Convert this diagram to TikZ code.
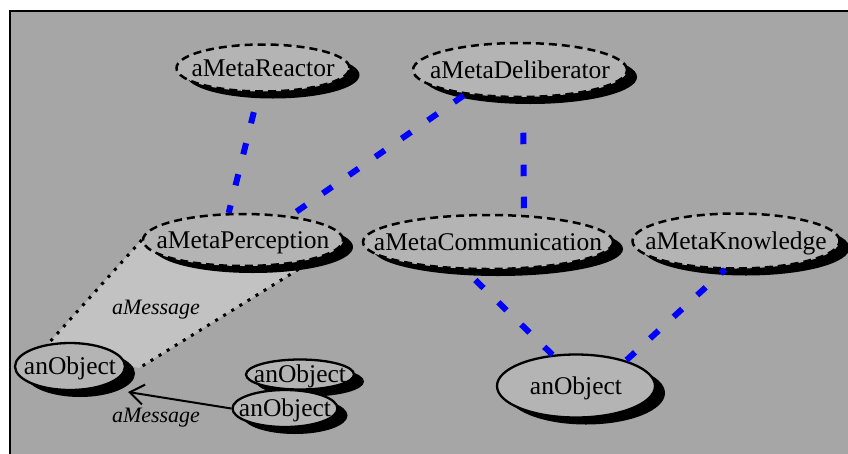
\documentclass[tikz,border=0pt]{standalone}
\usepackage{fontspec}
\setmainfont{Liberation Serif}
\usetikzlibrary{shapes.geometric,shadows,arrows.meta,calc}
\definecolor{bggray}{HTML}{A6A6A6}
\definecolor{nodegray}{HTML}{B4B4B4}
\definecolor{msggray}{HTML}{C2C2C2}
\newcommand\tlab[1]{\makebox[0pt]{#1}}
\pgfdeclarelayer{bottom}
\pgfdeclarelayer{background}
\pgfsetlayers{bottom,background,main}
\begin{document}
\begin{tikzpicture}[x=1pt,y=-1pt,
  base/.style={ellipse, inner sep=0pt, fill=nodegray, text height=16.5pt, text depth=0pt,
    font=\fontsize{25.5}{30}\selectfont,
    drop shadow={shadow xshift=10pt, shadow yshift=-7pt, fill=black, opacity=1}},
  metanode/.style={base, draw=black, line width=2.5pt, dash pattern=on 8pt off 5pt},
  objnode/.style={base, draw=black, line width=2.3pt},
  bluelink/.style={draw=blue, line width=6pt, dash pattern=on 11.5pt off 20.5pt},
  dotlink/.style={draw=black, line width=3pt, dash pattern=on 3pt off 6.5pt},
  msg/.style={font=\fontsize{22}{26}\selectfont\itshape, inner sep=0pt}
]
\useasboundingbox (0,0) rectangle (848,453);
\begin{pgfonlayer}{bottom}
  \fill[white] (0,0) rectangle (848,453);
  \filldraw[fill=bggray, draw=black, line width=2pt] (9.5,10.5) rectangle (880,490);
\end{pgfonlayer}

% meta nodes
\node[metanode, minimum width=173pt, minimum height=47pt] (reactor) at (263,68) {\tlab{aMetaReactor}};
\node[metanode, minimum width=214pt, minimum height=54pt] (deliberator) at (520,70) {\tlab{aMetaDeliberator}};
\node[metanode, minimum width=200pt, minimum height=52pt] (perception) at (243,240) {\tlab{aMetaPerception}};
\node[metanode, minimum width=250pt, minimum height=54pt] (communication) at (488,242) {\tlab{aMetaCommunication}};
\node[metanode, minimum width=207pt, minimum height=55pt] (knowledge) at (736,241) {\tlab{aMetaKnowledge}};

% objects
\node[objnode, minimum width=110pt, minimum height=47pt] (objL) at (70,366.5) {\tlab{anObject}};
\node[objnode, minimum width=108pt, minimum height=30pt] (objT) at (300,374.5) {\tlab{anObject}};
\node[objnode, minimum width=105pt, minimum height=37pt] (objB) at (285,408.5) {\tlab{anObject}};
\node[objnode, minimum width=158pt, minimum height=63pt] (objR) at (576,386) {\tlab{anObject}};

% message region
\coordinate (msgend) at ($(objL.east)+(13,1.5)$);
\begin{pgfonlayer}{background}
  \fill[msggray] (perception.west) -- (perception.-15) -- (msgend) -- (objL.134) -- cycle;
  \draw[dotlink] (perception.west) -- (objL.134);
  \draw[dotlink] (perception.-15) -- (msgend);
\end{pgfonlayer}
\node[msg] (msg1) at (156,310) {aMessage};

% message arrow
\coordinate (arrowtip) at (128,392);
\draw[line width=2pt, -{Straight Barb[length=14pt,width=20pt,line width=2pt]}] (objB.west) -- (arrowtip);
\node[msg] (msg2) at (156,418) {aMessage};

% blue links
\draw[bluelink, dash phase=12pt] (reactor.-100) -- (perception.118);
\draw[bluelink, dash phase=30pt] (deliberator.204) -- (perception.27);
\draw[bluelink, dash phase=17.5pt, shorten <=20pt] (deliberator.-84) -- (communication.37);
\draw[bluelink, dash phase=17.25pt] (communication.230) -- (objR.127);
\draw[bluelink, dash phase=5.75pt] (knowledge.249) -- (objR.27);
\end{tikzpicture}
\end{document}
